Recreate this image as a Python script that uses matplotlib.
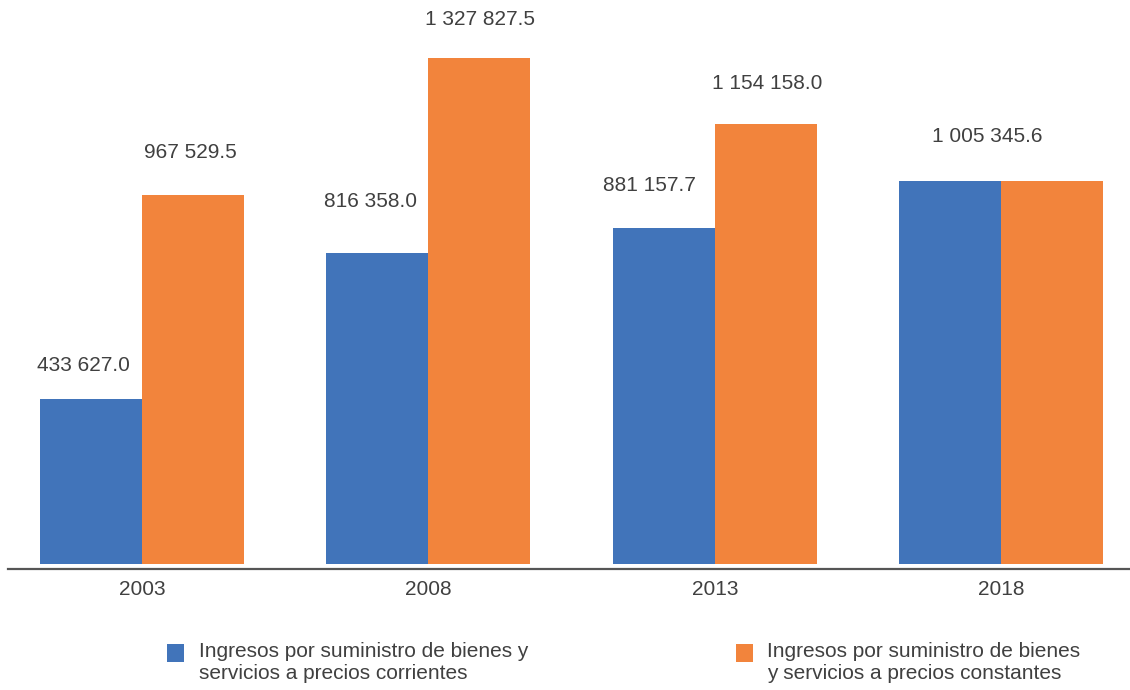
import numpy as np
import matplotlib
matplotlib.use("Agg")
from matplotlib import pyplot as plt
from matplotlib.patches import Rectangle

# ---------------------------------- DATA ----------------------------------
years = ["2003", "2008", "2013", "2018"]
corrientes = [433627.0, 816358.0, 881157.7, 1005345.6]
constantes = [967529.5, 1327827.5, 1154158.0, 1005345.6]
legend_labels = ["Ingresos por suministro de bienes y\nservicios a precios corrientes",
                 "Ingresos por suministro de bienes\ny servicios a precios constantes"]

# ---------------------------------- STYLE ---------------------------------
BLUE = "#4174BA"
ORANGE = "#F2843C"
TEXT = "#404040"
plt.rcParams["font.family"] = ["Liberation Sans", "DejaVu Sans"]

# label offsets in pixels (dx, dy) from the bar top centre
blue_off = [(-8, 33), (-7, 51), (-14, 43), (-14, 44)]
orange_off = [(-3, 43), (1, 39), (1, 41), (0, 44)]

W, H = 1130, 690
fig = plt.figure(figsize=(W / 100, H / 100), dpi=100)
ax = fig.add_axes([8 / W, (H - 569) / H, 1122 / W, 569 / H])

x = np.arange(len(years))
width = 0.356
ax.bar(x - width / 2, corrientes, width, color=BLUE, linewidth=0)
ax.bar(x + width / 2, constantes, width, color=ORANGE, linewidth=0)

px = 383 / 1005345.6  # pixels per unit
ax.set_ylim(-5 / px, 564 / px)
ax.set_xlim((8 - 142) / 286.4, (1130 - 142) / 286.4)


def fmt(v):
    return f"{v:,.1f}".replace(",", " ")


to_pt = 72 / 100
for i in range(len(years)):
    if corrientes[i] == constantes[i]:
        dx, dy = blue_off[i]
        ax.annotate(fmt(corrientes[i]), (x[i], corrientes[i]), xytext=(dx * to_pt, dy * to_pt),
                    textcoords="offset points", ha="center", va="center", fontsize=15, color=TEXT)
        continue
    dx, dy = blue_off[i]
    ax.annotate(fmt(corrientes[i]), (x[i] - width / 2, corrientes[i]), xytext=(dx * to_pt, dy * to_pt),
                textcoords="offset points", ha="center", va="center", fontsize=15, color=TEXT)
    dx, dy = orange_off[i]
    ax.annotate(fmt(constantes[i]), (x[i] + width / 2, constantes[i]), xytext=(dx * to_pt, dy * to_pt),
                textcoords="offset points", ha="center", va="center", fontsize=15, color=TEXT)

# axes formatting
for s in ["top", "right", "left"]:
    ax.spines[s].set_visible(False)
ax.spines["bottom"].set_color("#555555")
ax.spines["bottom"].set_linewidth(1.6)
ax.set_yticks([])
ax.set_xticks(x)
ax.set_xticklabels(years, fontsize=15, color=TEXT)
ax.tick_params(axis="x", length=0, pad=8)

# legend drawn by hand
for (sx, tx), col, lab in zip([(167, 199), (736, 767)], [BLUE, ORANGE], legend_labels):
    fig.patches.append(Rectangle((sx / W, (H - 662) / H), 17 / W, 18 / H,
                                 transform=fig.transFigure, facecolor=col, edgecolor="none"))
    fig.text(tx / W, (H - 642) / H, lab, ha="left", va="top", fontsize=15, color=TEXT,
             linespacing=1.2)

fig.savefig("out.png", dpi=100)
